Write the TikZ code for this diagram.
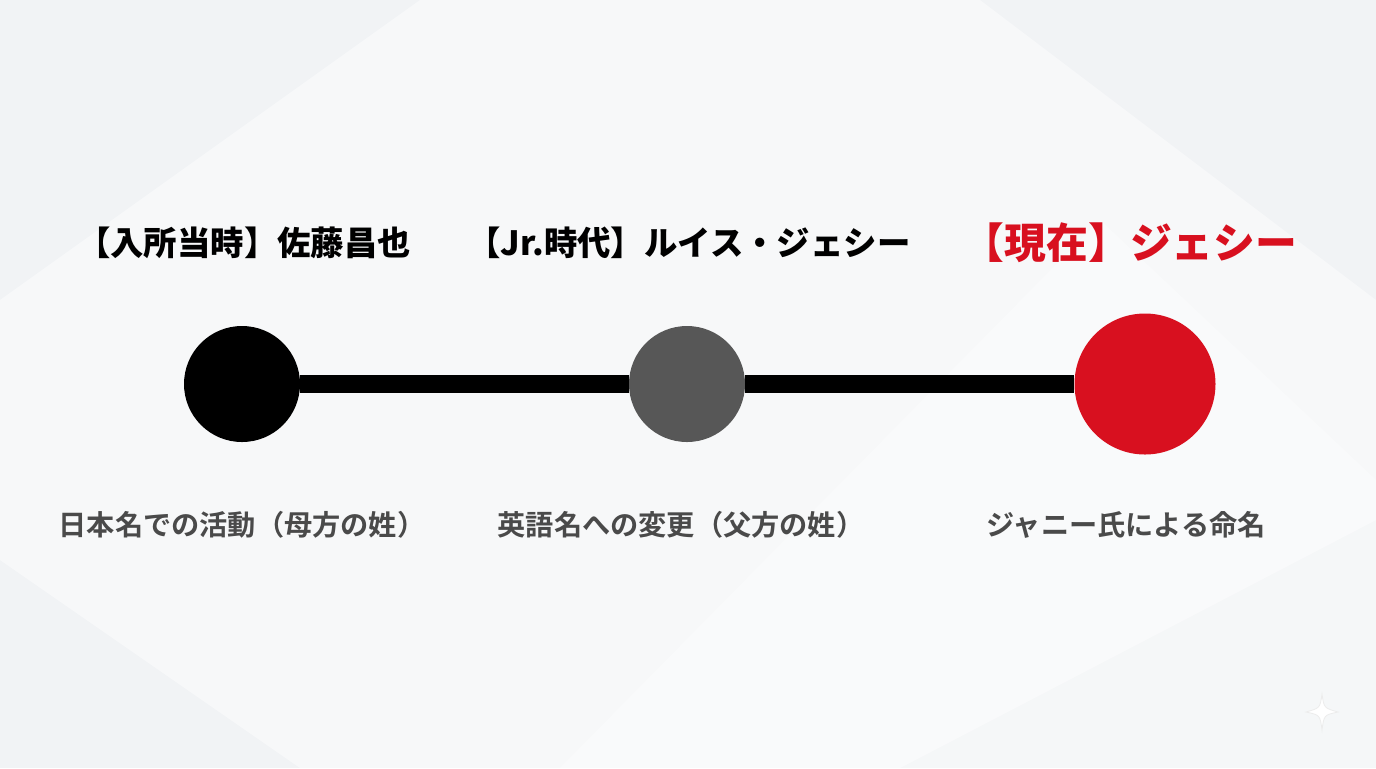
\documentclass[tikz,border=0pt]{standalone}
\usepackage{fontspec}
\newfontfamily\jpfont{Noto Sans CJK JP}[BoldFont={Noto Sans CJK JP Bold}]
\newfontfamily\jpheavy{Noto Sans CJK JP Black}
\definecolor{bgcol}{HTML}{F1F3F5}
\definecolor{jred}{HTML}{D8101F}
\definecolor{subgray}{HTML}{4A4A4A}
\definecolor{midgray}{HTML}{575757}
\tikzset{
	dot/.style={circle,inner sep=0pt,minimum size=58pt},
	title/.style={font=\jpheavy\fontsize{16.7pt}{18pt}\selectfont},
	sub/.style={font=\jpfont\bfseries\fontsize{14.1pt}{16pt}\selectfont,text=subgray}
}
\begin{document}
\begin{tikzpicture}[x=0.5pt,y=-0.5pt]
	\useasboundingbox (0,0) rectangle (1376,768);
	\fill[bgcol] (0,0) rectangle (1376,768);
	\fill[white,opacity=0.45] (0,300) -- (420,0) -- (980,0) -- (1376,300) -- (1376,520) -- (900,768) -- (300,768) -- (0,560) -- cycle;
	\fill[white,opacity=0.35] (560,768) -- (1100,220) -- (1376,480) -- (1376,768) -- cycle;
	\node[dot,fill=black] (p1) at (242,384) {};
	\node[dot,fill=midgray] (p2) at (687,384) {};
	\node[dot,fill=jred,minimum size=70.5pt] (p3) at (1145,384) {};
	\draw[line width=9pt] (p1) -- (p2);
	\draw[line width=9pt] (p2) -- (p3);
	\node[title] (t1) at (244,243) {【入所当時】佐藤昌也};
	\node[title] (t2) at (689,243) {【Jr.時代】ルイス・ジェシー};
	\node[title,text=jred,font=\jpheavy\fontsize{20.9pt}{22pt}\selectfont] (t3) at (1130,243) {【現在】ジェシー};
	\node[sub] (s1) at (242,525) {日本名での活動（母方の姓）};
	\node[sub] (s2) at (681,525) {英語名への変更（父方の姓）};
	\node[sub] (s3) at (1126,525) {ジャニー氏による命名};
	\fill[white,draw=gray!15] (1322,694) .. controls (1324,708) .. (1338,712) .. controls (1324,715) .. (1322,730) .. controls (1320,715) .. (1306,712) .. controls (1320,708) .. cycle;
\end{tikzpicture}
\end{document}
